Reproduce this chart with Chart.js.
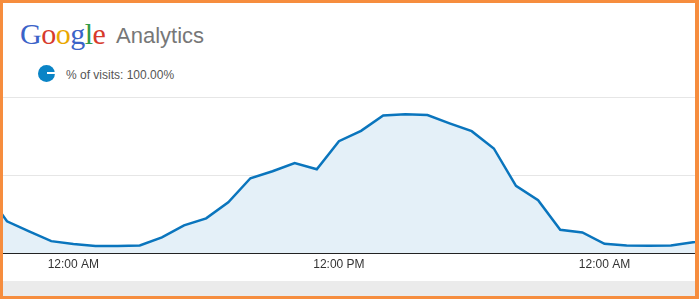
<!DOCTYPE html>
<html>
<head>
<meta charset="utf-8">
<script src="https://cdn.jsdelivr.net/npm/chart.js@4"></script>
<style>
  html, body { margin: 0; padding: 0; background: #fff; }
  body { position: relative; width: 699px; height: 299px; overflow: hidden; font-family: "Liberation Sans", Arial, sans-serif; }
  #frame { position: absolute; left: 0; top: 0; width: 699px; height: 299px; box-sizing: border-box;
           border-style: solid; border-color: #f68d3e; border-width: 3px 4px 3px 3px; z-index: 5; pointer-events: none; }
  #logo { position: absolute; left: 20px; top: 19px; font: 30px/30px "Liberation Serif", "DejaVu Serif", serif; letter-spacing: -0.5px; }
  #product { position: absolute; left: 116px; top: 25px; font: 22px/22px "Liberation Sans", Arial, sans-serif; color: #777; }
  #legend { position: absolute; left: 38px; top: 65px; }
  #dot { position: absolute; left: 0; top: 0; width: 17px; height: 17px; border-radius: 50%; background: #0a84c6; }
  #dot::after { content: ""; position: absolute; left: 9px; top: 7px; width: 8px; height: 2px; background: #fff; }
  #legtext { position: absolute; left: 28px; top: 3px; white-space: nowrap; font: 12px/14px "Liberation Sans", Arial, sans-serif; color: #555; }
  #band { position: absolute; left: 0; top: 281px; width: 699px; height: 18px; background: #ebebeb; }
  #wrap { position: absolute; left: 3px; top: 90px; width: 692px; height: 191px; }
</style>
</head>
<body>
<div id="logo"><span style="color:#3b63c8">G</span><span style="color:#d73a2c">o</span><span style="color:#eaa700">o</span><span style="color:#3b63c8">g</span><span style="color:#2f9a46">l</span><span style="color:#d73a2c">e</span></div>
<div id="product">Analytics</div>
<div id="legend"><div id="dot"></div><div id="legtext">% of visits: 100.00%</div></div>
<div id="band"></div>
<div id="wrap"><canvas id="chart"></canvas></div>
<div id="frame"></div>
<script>
// hourly points, 8 PM through 5 AM of the day after next
const hours = [
  "8:00 PM", "9:00 PM", "10:00 PM", "11:00 PM",
  "12:00 AM", "1:00 AM", "2:00 AM", "3:00 AM", "4:00 AM", "5:00 AM",
  "6:00 AM", "7:00 AM", "8:00 AM", "9:00 AM", "10:00 AM", "11:00 AM",
  "12:00 PM", "1:00 PM", "2:00 PM", "3:00 PM", "4:00 PM", "5:00 PM",
  "6:00 PM", "7:00 PM", "8:00 PM", "9:00 PM", "10:00 PM", "11:00 PM",
  "12:00 AM", "1:00 AM", "2:00 AM", "3:00 AM", "4:00 AM", "5:00 AM"
];
const visits = [
  40.8, 20.3, 13.8, 7.6, 5.8, 4.5, 4.5, 4.8, 10.0, 17.7,
  22.2, 32.5, 47.9, 52.4, 57.7, 53.7, 71.7, 78.3, 88.2, 88.9,
  88.4, 83.1, 78.1, 67.0, 43.0, 33.8, 14.9, 13.2, 5.9, 4.8,
  4.6, 4.8, 6.9, 9.3
];
// only midnight and noon get a label
const labelledHours = [4, 16, 28];

const ctx = document.getElementById("chart").getContext("2d");
new Chart(ctx, {
  type: "line",
  data: {
    datasets: [
      {
        label: "% of visits",
        data: visits.map((v, i) => ({ x: i, y: v })),
        borderColor: "#0a75bd",
        borderWidth: 2.5,
        backgroundColor: "#e4f0f8",
        fill: "origin",
        tension: 0,
        pointRadius: 0,
      },
    ],
  },
  options: {
    responsive: true,
    maintainAspectRatio: false,
    animation: false,
    layout: { padding: { top: 7, left: 0, right: 0, bottom: 0 } },
    plugins: { legend: { display: false }, tooltip: { enabled: false } },
    scales: {
      x: {
        type: "linear",
        min: 0.82,
        max: 32.09,
        afterBuildTicks: (scale) => {
          scale.ticks = labelledHours.map((v) => ({ value: v }));
        },
        afterFit: (scale) => { scale.height = 28; },
        ticks: {
          autoSkip: false,
          maxRotation: 0,
          padding: 4,
          color: "#333",
          font: { family: "'Liberation Sans', Arial, sans-serif", size: 12 },
          callback: (v) => hours[v],
        },
        grid: { display: false, drawTicks: false },
        border: { display: true, color: "#222", width: 2 },
      },
      y: {
        min: 0,
        max: 100,
        afterFit: (scale) => { scale.width = 0; },
        ticks: { display: false, stepSize: 50 },
        grid: { color: "#e6e6e6", drawTicks: false },
        border: { display: false },
      },
    },
  },
});
</script>
</body>
</html>
